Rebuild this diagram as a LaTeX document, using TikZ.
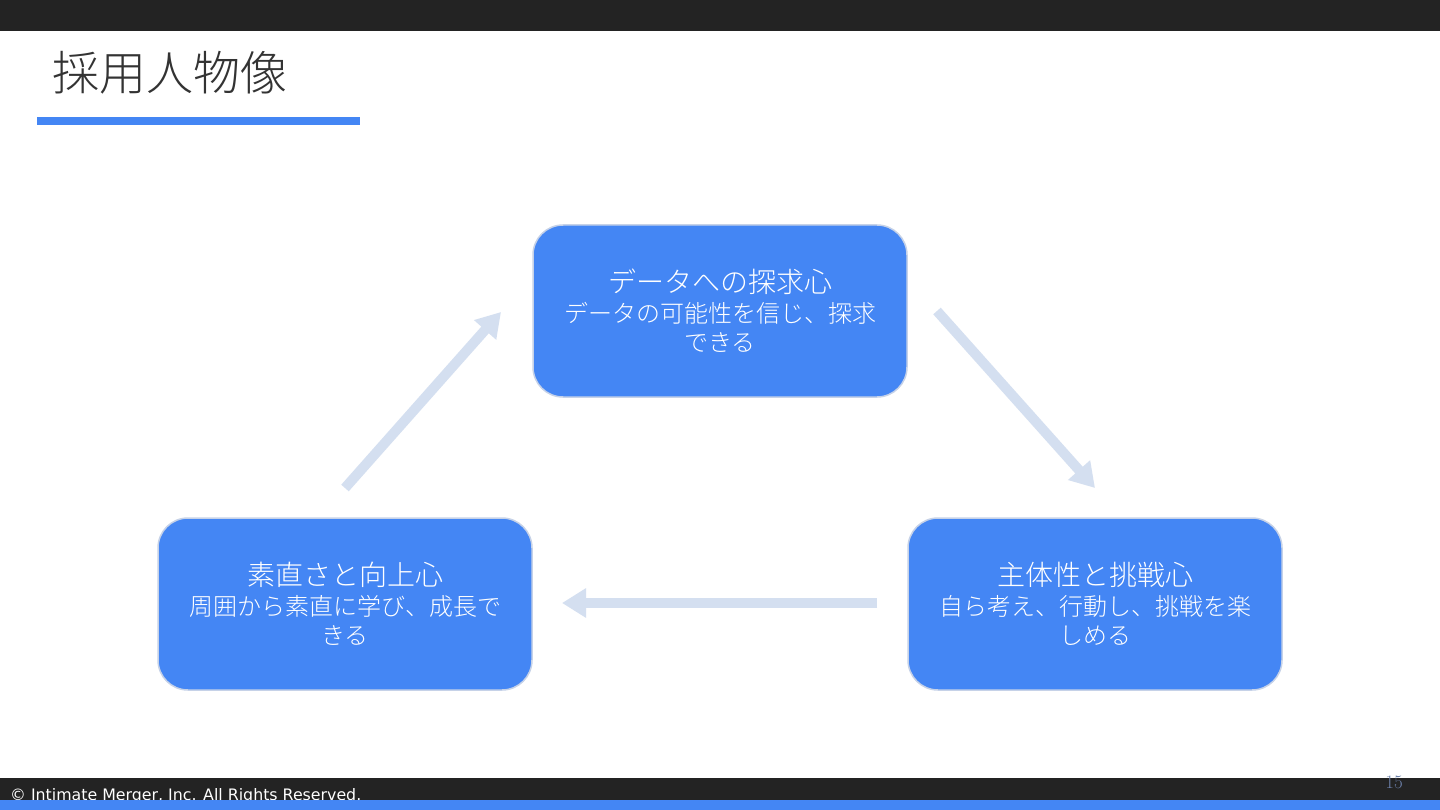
\documentclass[tikz,border=0pt]{standalone}
\usepackage{fontspec}
\usetikzlibrary{arrows.meta}
\newfontfamily\jp{Noto Sans CJK JP}[UprightFont=* Light]
\newfontfamily\dv{DejaVu Sans}
\definecolor{topbar}{HTML}{232323}
\definecolor{accent}{HTML}{4486F4}
\definecolor{titlegray}{HTML}{333333}
\definecolor{boxline}{HTML}{C6D2E8}
\definecolor{arrowc}{HTML}{D4DFF0}
\definecolor{pagec}{HTML}{6B7FA8}
\tikzset{
  box/.style={draw=boxline, line width=1.5pt, fill=accent, rounded corners=30pt,
    minimum width=374pt, minimum height=172pt, inner sep=0pt, text=white,
    align=center, font=\jp\fontsize{24}{29}\selectfont},
  flow/.style={draw=arrowc, line width=10pt, -{Triangle[length=24pt,width=28pt]}}
}
\newcommand{\boxhead}[1]{{\fontsize{28}{31}\selectfont #1}\\[1pt]}
\begin{document}
\begin{tikzpicture}[x=1pt,y=-1pt]
\useasboundingbox (0,0) rectangle (1440,810);
\fill[white] (0,0) rectangle (1440,810);
\fill[topbar] (0,0) rectangle (1440,31);
\node[anchor=west, text=titlegray, font=\jp\fontsize{47}{50}\selectfont, inner sep=0pt] (title) at (52,73) {採用人物像};
\fill[accent] (37,117) rectangle (360,125);

\node[box] (top) at (720,311) {\boxhead{データへの探求心}データの可能性を信じ、探求\\できる};
\node[box] (left) at (345,604) {\boxhead{素直さと向上心}周囲から素直に学び、成長で\\きる};
\node[box] (right) at (1095,604) {\boxhead{主体性と挑戦心}自ら考え、行動し、挑戦を楽\\しめる};

\coordinate (a1s) at (345,488);
\coordinate (a1e) at (501,312);
\coordinate (a2s) at (937,311);
\coordinate (a2e) at (1095,488);
\coordinate (a3s) at (877,603);
\coordinate (a3e) at (562,603);
\draw[flow] (a1s) -- (a1e);
\draw[flow] (a2s) -- (a2e);
\draw[flow] (a3s) -- (a3e);

\fill[topbar] (0,778) rectangle (1440,800);
\node[anchor=base west, text=white, font=\dv\fontsize{15.8}{18}\selectfont, inner sep=0pt] (copy) at (10,800) {© Intimate Merger, Inc. All Rights Reserved.};
\fill[accent] (0,800) rectangle (1440,810);
\node[text=pagec, font=\fontsize{19}{22}\selectfont, inner sep=0pt] (page) at (1394,782) {15};
\end{tikzpicture}
\end{document}
